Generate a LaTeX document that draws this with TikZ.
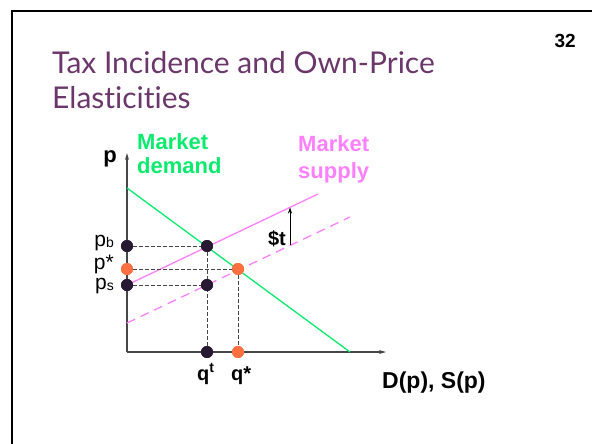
\documentclass[tikz,border=0pt]{standalone}
\usepackage{fontspec}
\setmainfont{Liberation Sans}
\newfontfamily\titlefont{Lato}[Ligatures=NoCommon]
\usetikzlibrary{arrows.meta}
\definecolor{titlepurple}{RGB}{107,55,107}
\definecolor{dgreen}{RGB}{10,235,110}
\definecolor{spink}{RGB}{255,128,255}
\definecolor{ddot}{RGB}{40,25,50}
\definecolor{odot}{RGB}{255,112,64}
\definecolor{axisgray}{RGB}{70,70,70}
\newcommand{\lowsub}[1]{\raisebox{-1.5pt}{\fontsize{14}{14}\selectfont #1}}
\tikzset{
  axisline/.style={draw=axisgray, line width=1.3pt, -{Stealth[length=7pt,width=4pt]}},
  guide/.style={draw=axisgray, line width=0.8pt, dash pattern=on 3.5pt off 2.5pt},
  dotd/.style={circle, fill=ddot, inner sep=0pt, minimum size=12pt},
  doto/.style={circle, fill=odot, inner sep=0pt, minimum size=12pt},
  lbl/.style={inner sep=0pt, font=\fontsize{20}{22}\selectfont\bfseries},
  plbl/.style={inner sep=0pt, font=\fontsize{21}{23}\selectfont},
}
\begin{document}
\begin{tikzpicture}[x=1pt,y=-1pt]
\useasboundingbox (0,0) rectangle (592,444);
% frame
\draw[line width=2.5pt] (12,444) -- (12,11) -- (592,11);
% page number
\node[lbl, anchor=base east, font=\fontsize{19}{21}\selectfont\bfseries] (pg) at (576,48) {32};
% title
\node[inner sep=0pt, anchor=base west, align=left, text=titlepurple,
      font=\titlefont\fontsize{30}{35}\selectfont] (title) at (52,108)
  {Tax Incidence and Own-Price\\Elasticities};
% axes
\coordinate (O) at (127,352);
\coordinate (ytop) at (127,153);
\coordinate (xright) at (386,352);
\draw[axisline] (O) -- (ytop);
\draw[axisline] (O) -- (xright);
% curves
\coordinate (d1) at (127,188);
\coordinate (d2) at (350,352);
\coordinate (s1) at (127,285);
\coordinate (s2) at (318,194);
\coordinate (t1) at (127,323);
\coordinate (t2) at (350,217);
\draw[dgreen, line width=1.3pt] (d1) -- (d2);
\draw[spink, line width=1.3pt] (s1) -- (s2);
\draw[spink, line width=1.3pt, dash pattern=on 9pt off 6pt] (t1) -- (t2);
% tax arrow
\coordinate (ta) at (290,245.3);
\coordinate (tb) at (290,207.5);
\draw[black, line width=0.8pt, -{Stealth[length=6pt,width=4pt]}] (ta) -- (tb);
\node[lbl, anchor=base east] (tlab) at (286,245) {\$t};
% dots
\node[dotd] (pb) at (127,246) {};
\node[dotd] (b) at (207,246) {};
\node[doto] (ps0) at (127,269) {};
\node[doto] (e) at (238,269) {};
\node[dotd] (psd) at (127,285) {};
\node[dotd] (s) at (207,285) {};
\node[dotd] (qt) at (207,352) {};
\node[doto] (qs) at (238,352) {};
% guides
\draw[guide] (pb) -- (b);
\draw[guide] (ps0) -- (e);
\draw[guide] (psd) -- (s);
\draw[guide] (b) -- (qt);
\draw[guide] (e) -- (qs);
% redraw dots on top
\foreach \n/\c in {pb/ddot,b/ddot,ps0/odot,e/odot,psd/ddot,s/ddot,qt/ddot,qs/odot}
  \fill[\c] (\n) circle (6pt);
% labels
\node[plbl, anchor=base east] (lpb) at (114,246) {p\lowsub{b}};
\node[plbl, anchor=base east] (lpstar) at (114,269) {p*};
\node[plbl, anchor=base east] (lps) at (114,289) {p\lowsub{s}};
\node[lbl, anchor=base west] (lqt) at (197,380) {q\textsuperscript{t}};
\node[lbl, anchor=base west] (lqs) at (231,380) {q*};
\node[lbl, anchor=base west, font=\fontsize{23}{25}\selectfont\bfseries] (lx) at (382,388) {D(p), S(p)};
\node[lbl, anchor=base east, font=\fontsize{22}{24}\selectfont\bfseries] (ly) at (117,162) {p};
\node[lbl, anchor=base west, align=left, text=dgreen, font=\fontsize{22}{24}\selectfont\bfseries] (ldem) at (137,173) {Market\\demand};
\node[lbl, anchor=base west, align=left, text=spink, font=\fontsize{22}{27}\selectfont\bfseries] (lsup) at (298,178) {Market\\supply};
\end{tikzpicture}
\end{document}
